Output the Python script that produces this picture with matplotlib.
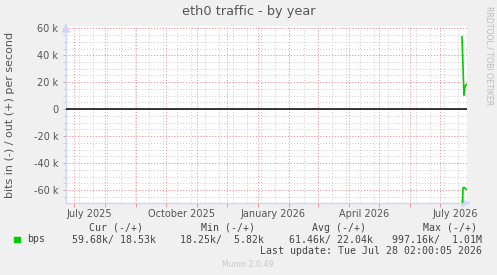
import datetime as dt
import matplotlib
matplotlib.use("Agg")
import matplotlib.pyplot as plt

# =========================
# DATA (munin eth0 - year)
# =========================
dias = ["2026-07-23 02:00", "2026-07-24 02:00", "2026-07-25 02:00",
        "2026-07-26 02:00", "2026-07-27 02:00", "2026-07-28 02:00"]
saida_k = [53.7, 32.0, 10.4, 16.8, 18.1, 18.53]      # out (+), kbit/s
entrada_k = [85.0, 58.5, 58.0, 58.6, 59.3, 59.68]    # in (-), kbit/s

rotulos_x = ["July 2025", "October 2025", "January 2026", "April 2026", "July 2026"]
datas_rotulos = ["2025-07-16", "2025-10-16", "2026-01-16", "2026-04-16", "2026-07-16"]
ticks_y = [-60, -40, -20, 0, 20, 40, 60]

legenda_cab = ["Cur (-/+)", "Min (-/+)", "Avg (-/+)", "Max (-/+)"]
legenda_val = ["59.68k/ 18.53k", "18.25k/  5.82k", "61.46k/ 22.04k", "997.16k/  1.01M"]

inicio = dt.datetime(2025, 6, 23, 2, 0)
fim = dt.datetime(2026, 7, 28, 2, 0)

VERDE = "#00CC00"
FONTE = "#555555"
GRADE = "#CCCCCC"
GRADE_M = "#F29090"
W, H = 497, 275

fig = plt.figure(figsize=(W / 100, H / 100), dpi=100, facecolor="#F0F0F0")
ax = fig.add_axes([66 / W, 1 - 203 / H, (467 - 66) / W, (203 - 26) / H])
ax.set_facecolor("white")
ax.set_xlim(inicio, fim)
ax.set_ylim(-69.6, 61.7)

# grade menor / maior
d = dt.datetime(2025, 7, 6)
while d < fim:
    ax.axvline(d, color=GRADE, lw=0.7, ls=(0, (1, 2)), zorder=1)
    d += dt.timedelta(days=14)
for v in range(-65, 61, 5):
    ax.axhline(v, color=GRADE, lw=0.7, ls=(0, (1, 2)), zorder=1)

meses = []
ano, mes = 2025, 7
while dt.datetime(ano, mes, 1) < fim:
    meses.append(dt.datetime(ano, mes, 1))
    mes += 1
    if mes > 12:
        mes, ano = 1, ano + 1
for m in meses:
    ax.axvline(m, color=GRADE_M, lw=0.7, ls=(0, (1, 2)), zorder=2)
for v in ticks_y:
    ax.axhline(v, color=GRADE_M, lw=0.7, ls=(0, (1, 2)), zorder=2)

ax.axhline(0, color="black", lw=1.1, zorder=3)

x = [dt.datetime.strptime(s, "%Y-%m-%d %H:%M") for s in dias]
ax.plot(x, saida_k, color=VERDE, lw=1.2, zorder=4)
ax.plot(x, [-v for v in entrada_k], color=VERDE, lw=1.2, zorder=4)

# eixos
for s in ["top", "right"]:
    ax.spines[s].set_visible(False)
for s in ["left", "bottom"]:
    ax.spines[s].set_color("#CFD6F8")
    ax.spines[s].set_linewidth(1.0)
ax.annotate("", xy=(1.015, 0), xytext=(0.995, 0), xycoords="axes fraction",
            arrowprops=dict(arrowstyle="-|>,head_length=0.5,head_width=0.25",
                            color="#CFD6F8", lw=1), annotation_clip=False)
ax.annotate("", xy=(0, 1.03), xytext=(0, 0.99), xycoords="axes fraction",
            arrowprops=dict(arrowstyle="-|>,head_length=0.5,head_width=0.25",
                            color="#CFD6F8", lw=1), annotation_clip=False)

ax.set_yticks(ticks_y)
ax.set_yticklabels([f"{v} k" if v != 0 else "0" for v in ticks_y])
ax.set_yticks(list(range(-65, 61, 5)), minor=True)
ax.tick_params(axis="y", which="major", length=2, width=0.7, color=GRADE_M, pad=3.5,
               labelsize=7, labelcolor=FONTE)
ax.tick_params(axis="y", which="minor", length=2, width=0.7, color=GRADE)

ax.set_xticks(meses, minor=True)
ax.tick_params(axis="x", which="minor", length=3, width=0.7, color=GRADE_M)
ax.set_xticks([dt.datetime.strptime(s, "%Y-%m-%d") for s in datas_rotulos])
ax.set_xticklabels(rotulos_x)
ax.tick_params(axis="x", which="major", length=0, pad=4.5,
               labelsize=7, labelcolor=FONTE)

# textos
fig.text(248.5 / W, 1 - 12 / H, "eth0 traffic - by year", ha="center", va="center",
         fontsize=9.3, color=FONTE)
fig.text(10 / W, 1 - 115 / H, "bits in (-) / out (+) per second", rotation=90,
         ha="center", va="center", fontsize=8, color=FONTE)
fig.text(489 / W, 1 - 56 / H, "RRDTOOL / TOBI OETIKER", rotation=270,
         ha="center", va="center", fontsize=5.6, color="#BBBBBB")

mono = "DejaVu Sans Mono"
cab_x = [89, 201, 312, 423]
val_x = [72, 180, 289, 392]
for cx, t in zip(cab_x, legenda_cab):
    fig.text(cx / W, 1 - 228 / H, t, ha="left", va="center", fontsize=7.1,
             family=mono, color="#444444")
for vx, t in zip(val_x, legenda_val):
    fig.text(vx / W, 1 - 239.5 / H, t, ha="left", va="center", fontsize=7.1,
             family=mono, color="#444444")
fig.patches.append(plt.Rectangle((14 / W, 1 - 242 / H), 5.5 / W, 5.5 / H,
                                 transform=fig.transFigure, color=VERDE))
fig.text(27 / W, 1 - 239.5 / H, "bps", ha="left", va="center", fontsize=7.1,
         family=mono, color="#444444")
fig.text(482 / W, 1 - 251 / H, "Last update: Tue Jul 28 02:00:05 2026",
         ha="right", va="center", fontsize=7.1, family=mono, color="#444444")
fig.text(248 / W, 1 - 264.5 / H, "Munin 2.0.49", ha="center", va="center",
         fontsize=5.7, color="#C8C8C8")

fig.savefig("out.png", dpi=100, facecolor=fig.get_facecolor())
